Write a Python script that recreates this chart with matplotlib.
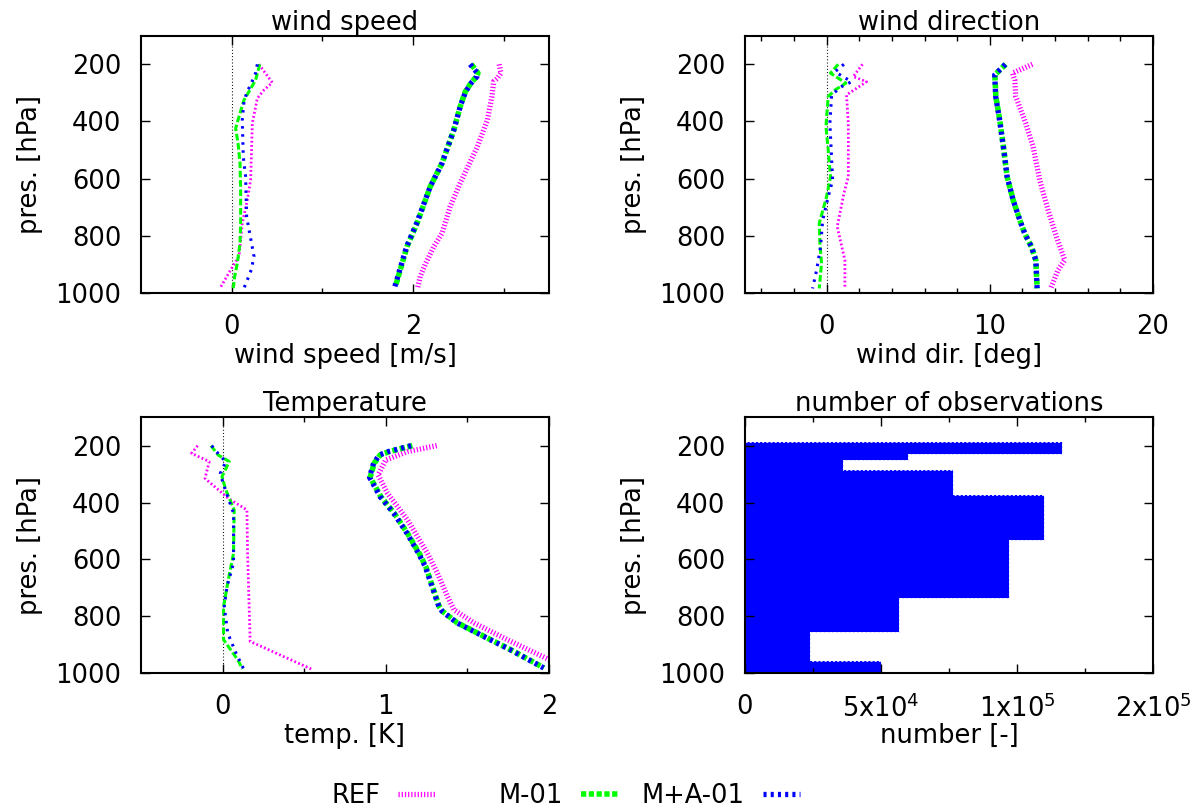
import numpy as np
import matplotlib
matplotlib.use("Agg")
import matplotlib.pyplot as plt
from matplotlib.lines import Line2D

# ---------------- data (pressure [hPa], value) ----------------
# wind speed
ws_ref_lo = [(200, 0.30), (264, 0.448), (290, 0.356), (319, 0.283), (406, 0.228), (523, 0.217),
             (604, 0.209), (674, 0.173), (756, 0.117), (872, 0.081), (919, -0.011), (983, -0.128)]
ws_m_lo = [(200, 0.31), (255, 0.264), (296, 0.19), (325, 0.136), (371, 0.092), (424, 0.044),
           (476, 0.07), (546, 0.092), (639, 0.099), (756, 0.099), (826, 0.092), (896, 0.062),
           (942, 0.033), (983, 0.018)]
ws_ma_lo = [(200, 0.283), (231, 0.264), (272, 0.209), (296, 0.17), (330, 0.136), (395, 0.117),
            (523, 0.128), (593, 0.154), (733, 0.165), (872, 0.246), (919, 0.216), (954, 0.173),
            (983, 0.136)]
ws_ref_hi = [(200, 2.95), (231, 2.97), (249, 2.93), (260, 2.89), (313, 2.87), (395, 2.82),
             (488, 2.71), (616, 2.52), (698, 2.41), (791, 2.32), (838, 2.23), (896, 2.14),
             (942, 2.08), (983, 2.05)]
ws_m_hi = [(200, 2.643), (231, 2.717), (243, 2.70), (264, 2.643), (296, 2.577), (348, 2.52),
           (430, 2.45), (546, 2.32), (628, 2.19), (756, 2.045), (837, 1.935), (977, 1.806)]
ws_ma_hi = [(200, 2.63), (231, 2.71), (243, 2.705), (264, 2.645), (296, 2.58), (348, 2.52),
            (430, 2.45), (546, 2.32), (628, 2.19), (756, 2.04), (837, 1.93), (977, 1.80)]

# wind direction
wd_ref_lo = [(200, 2.2), (243, 1.63), (261, 2.45), (307, 1.22), (406, 1.33), (593, 1.33),
             (652, 1.06), (768, 0.65), (885, 1.12), (984, 1.12)]
wd_m_lo = [(200, 0.71), (231, 0.24), (266, 1.18), (290, 0.51), (313, 0.1), (418, -0.04),
           (500, 0.1), (593, 0.24), (663, 0.0), (756, -0.45), (826, -0.41), (896, -0.31),
           (984, -0.45)]
wd_ma_lo = [(200, 1.06), (226, 0.51), (261, 1.53), (278, 0.92), (307, 0.31), (406, 0.2),
            (605, 0.37), (663, 0.1), (745, -0.24), (838, -0.37), (920, -0.61), (984, -0.86)]
wd_ref_hi = [(200, 12.61), (231, 11.39), (255, 11.53), (313, 11.59), (406, 12.2), (488, 12.65),
             (605, 13.06), (710, 13.57), (803, 14.08), (885, 14.59), (920, 14.18), (984, 13.73)]
wd_m_hi = [(200, 10.98), (237, 10.31), (313, 10.37), (395, 10.61), (500, 10.86), (593, 11.06),
           (675, 11.43), (745, 11.84), (792, 12.14), (838, 12.55), (885, 12.82), (984, 12.9)]
wd_ma_hi = [(200, 10.95), (237, 10.30), (313, 10.36), (395, 10.60), (500, 10.86), (593, 11.06),
            (675, 11.43), (745, 11.84), (792, 12.14), (838, 12.55), (885, 12.82), (984, 12.9)]

# temperature
t_ref_lo = [(200, -0.153), (227, -0.19), (256, -0.082), (315, -0.108), (385, 0.035), (426, 0.149),
            (578, 0.153), (888, 0.169), (987, 0.551)]
t_m_lo = [(200, -0.071), (233, -0.027), (256, 0.041), (309, -0.004), (356, 0.02), (426, 0.071),
          (578, 0.067), (671, 0.035), (765, 0.006), (882, 0.006), (952, 0.092), (985, 0.122)]
t_ma_lo = [(200, -0.067), (233, -0.02), (256, 0.02), (297, -0.014), (326, 0.0), (379, 0.031),
           (437, 0.067), (613, 0.067), (695, 0.027), (765, 0.01), (858, 0.031), (929, 0.082),
           (985, 0.129)]
t_ref_hi = [(200, 1.312), (221, 1.133), (250, 1.0), (303, 0.953), (367, 1.01), (461, 1.133),
            (578, 1.255), (648, 1.316), (730, 1.378), (777, 1.418), (823, 1.541), (882, 1.745),
            (950, 1.994), (985, 2.12)]
t_m_hi = [(200, 1.163), (221, 1.02), (233, 0.965), (262, 0.929), (311, 0.904), (379, 0.969),
          (437, 1.051), (508, 1.133), (578, 1.204), (625, 1.245), (695, 1.286), (765, 1.327),
          (782, 1.347), (823, 1.439), (882, 1.643), (917, 1.765), (981, 1.969)]
t_ma_hi = [(200, 1.155), (221, 1.015), (233, 0.96), (262, 0.925), (311, 0.90), (379, 0.965),
           (437, 1.048), (508, 1.13), (578, 1.20), (625, 1.242), (695, 1.283), (765, 1.325),
           (782, 1.345), (823, 1.437), (882, 1.64), (917, 1.762), (981, 1.967)]

# number of observations (pressure bin edges and counts)
nobs_edges = [186, 231, 252, 284, 372, 533, 737, 854, 956, 1000]
nobs_counts = [116500, 59900, 35900, 76600, 109900, 96900, 56600, 24000, 50100]

pres_ticks = [200, 400, 600, 800, 1000]
legend_labels = ["REF", "M-01", "M+A-01"]
panel_titles = ["wind speed", "wind direction", "Temperature", "number of observations"]
x_labels = ["wind speed [m/s]", "wind dir. [deg]", "temp. [K]", "number [-]"]
y_label = "pres. [hPa]"
nobs_tick_vals = [0, 5e4, 1e5, 1.5e5]
nobs_tick_labels = ["0", "5x10$^{4}$", "1x10$^{5}$", "2x10$^{5}$"]

# ---------------- style ----------------
FS = 18.5
plt.rcParams["font.family"] = ["DejaVu Sans"]
plt.rcParams["font.size"] = FS
plt.rcParams["lines.scale_dashes"] = False
plt.rcParams["mathtext.fontset"] = "dejavusans"

MAG, GRN, BLU = "#ff00ff", "#00ff00", "#0000ff"
thin = {
    "REF": dict(color=MAG, lw=2.0, dashes=(1.3, 1.7)),
    "M": dict(color=GRN, lw=2.2, dashes=(4.8, 1.9)),
    "MA": dict(color=BLU, lw=2.2, dashes=(1.8, 4.0)),
}
thick = {
    "REF": dict(color=MAG, lw=3.8, dashes=(0.9, 1.4)),
    "M": dict(color=GRN, lw=4.0, dashes=(3.8, 1.8)),
    "MA": dict(color=BLU, lw=3.8, dashes=(2.2, 3.0)),
}

W, H = 1202, 811
fig = plt.figure(figsize=(W / 100, H / 100), dpi=100)


def rect(l, r, t, b):
    return [l / W, 1 - b / H, (r - l) / W, (b - t) / H]


ax1 = fig.add_axes(rect(141, 549, 35.7, 293))
ax2 = fig.add_axes(rect(745, 1153, 35.7, 293))
ax3 = fig.add_axes(rect(141, 549, 417.2, 673.3))
ax4 = fig.add_axes(rect(745, 1153, 417.2, 673.3))


def draw(ax, pairs, style):
    a = np.array(pairs, dtype=float)
    ax.plot(a[:, 1], a[:, 0], solid_capstyle="butt", dash_capstyle="butt", **style)


def zero_line(ax):
    ax.axvline(0, color="black", lw=0.8, dashes=(0.7, 1.6), zorder=1)


for ax, lo, hi in [
    (ax1, (ws_ref_lo, ws_m_lo, ws_ma_lo), (ws_ref_hi, ws_m_hi, ws_ma_hi)),
    (ax2, (wd_ref_lo, wd_m_lo, wd_ma_lo), (wd_ref_hi, wd_m_hi, wd_ma_hi)),
    (ax3, (t_ref_lo, t_m_lo, t_ma_lo), (t_ref_hi, t_m_hi, t_ma_hi)),
]:
    zero_line(ax)
    for pairs, key in zip(lo, ("REF", "M", "MA")):
        draw(ax, pairs, thin[key])
    for pairs, key in zip(hi, ("REF", "M", "MA")):
        draw(ax, pairs, thick[key])

# observations
ax4.stairs(nobs_counts, nobs_edges, orientation="horizontal", baseline=0, fill=True,
           color=BLU, lw=0)
ax4.stairs(nobs_counts, nobs_edges, orientation="horizontal", baseline=0, fill=False,
           color="#d8d8ff", lw=0.7, linestyle=(0, (1.5, 1.5)))

# axes cosmetics
ax1.set_xlim(-1, 3.5)
ax1.set_xticks([0, 2])
ax1.set_xticks([1, 3], minor=True)
ax2.set_xlim(-5, 20)
ax2.set_xticks([0, 10, 20])
ax2.set_xticks([v for v in range(-4, 20, 2) if v % 10 != 0], minor=True)
ax3.set_xlim(-0.5, 2)
ax3.set_xticks([0, 1, 2])
ax3.set_xticks([0.5, 1.5], minor=True)
ax4.set_xlim(0, 1.5e5)
ax4.set_xticks(nobs_tick_vals)
ax4.set_xticklabels(nobs_tick_labels)
ax4.set_xticks([2.5e4, 7.5e4, 1.25e5], minor=True)

for ax, title, xl in zip((ax1, ax2, ax3, ax4), panel_titles, x_labels):
    ax.set_ylim(1000, 100)
    ax.set_yticks(pres_ticks)
    ax.tick_params(which="both", direction="in", top=True, right=True, width=1.0)
    ax.tick_params(which="major", length=6.5)
    ax.tick_params(which="minor", length=3.5)
    ax.tick_params(axis="y", pad=14)
    ax.tick_params(axis="x", pad=15)
    for s in ax.spines.values():
        s.set_linewidth(1.5)
    ax.set_title(title, pad=3.6, fontsize=FS)
    ax.set_xlabel(xl, va="center")
    ax.xaxis.set_label_coords(0.5, -0.245)
    ax.set_ylabel(y_label, va="center")
    ax.yaxis.set_label_coords(-0.271, 0.5)

# legend
handles = [Line2D([], [], solid_capstyle="butt", dash_capstyle="butt", **thick[k])
           for k in ("REF", "M", "MA")]
ends = [435, 618, 800]
for h, lab, xe in zip(handles, legend_labels, ends):
    fig.legend([h], [lab], loc="center right", bbox_to_anchor=(xe / W, 1 - 796 / H),
               frameon=False, markerfirst=False, handlelength=37 / (FS * 100 / 72),
               handletextpad=18 / (FS * 100 / 72),
               borderpad=0, borderaxespad=0, fontsize=FS)

fig.savefig("out.png", dpi=100)
